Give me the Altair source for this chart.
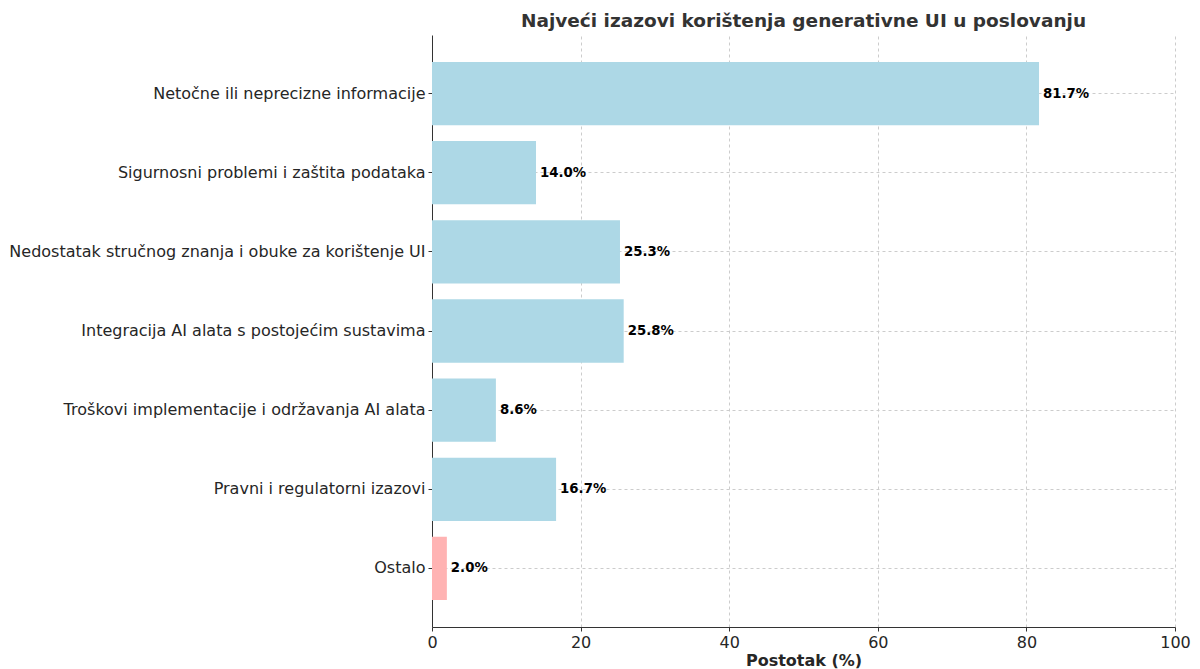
import altair as alt
import pandas as pd

categories = [
    "Netočne ili neprecizne informacije",
    "Sigurnosni problemi i zaštita podataka",
    "Nedostatak stručnog znanja i obuke za korištenje UI",
    "Integracija AI alata s postojećim sustavima",
    "Troškovi implementacije i održavanja AI alata",
    "Pravni i regulatorni izazovi",
    "Ostalo",
]
values = [81.7, 14.0, 25.3, 25.8, 8.6, 16.7, 2.0]
colors = ["#add8e6"] * 6 + ["#ffb3b3"]

df = pd.DataFrame({
    "cat": categories,
    "val": values,
    "color": colors,
    "label": [f"{v:.1f}%" for v in values],
})

FONT = "DejaVu Sans"

y_enc = alt.Y(
    "cat:N",
    sort=categories,
    title=None,
    scale=alt.Scale(paddingInner=0.2, paddingOuter=0.34),
    axis=alt.Axis(
        labelFontSize=16, labelColor="#262626", labelFont=FONT, labelPadding=3,
        tickSize=4, tickColor="#333333", domainColor="#333333",
        grid=True, gridDash=[3, 3], gridColor="#cccccc", bandPosition=0.5,
        labelLimit=600,
    ),
)

x_enc = alt.X(
    "val:Q",
    title="Postotak (%)",
    scale=alt.Scale(domain=[0, 100], nice=False),
    axis=alt.Axis(
        values=[0, 20, 40, 60, 80, 100], labelFontSize=16, labelColor="#262626",
        labelFont=FONT, labelFlush=False, tickSize=4, tickColor="#333333",
        domainColor="#333333",
        grid=True, gridDash=[3, 3], gridColor="#cccccc",
        titleFont=FONT, titleFontSize=16, titleFontWeight="bold", titleColor="#262626",
        titlePadding=2, labelPadding=3,
    ),
)

bars = alt.Chart(df).mark_bar().encode(
    y=y_enc,
    x=x_enc,
    color=alt.Color("color:N", scale=None),
)

text = alt.Chart(df).mark_text(
    align="left", baseline="middle", dx=4, fontSize=13.3, fontWeight="bold",
    font=FONT, color="black",
).encode(
    y=alt.Y("cat:N", sort=categories),
    x="val:Q",
    text="label:N",
)

chart = (bars + text).properties(
    width=743,
    height=592,
    title=alt.TitleParams(
        "Najveći izazovi korištenja generativne UI u poslovanju",
        font=FONT, fontSize=18.5, fontWeight="bold", color="#333333",
        anchor="middle", offset=5,
    ),
    autosize=alt.AutoSizeParams(type="none"),
    padding={"left": 424, "top": 27, "right": 17, "bottom": 45},
).configure_view(stroke=None)

chart.save("out.html", embed_options={"renderer": "svg", "actions": False})
